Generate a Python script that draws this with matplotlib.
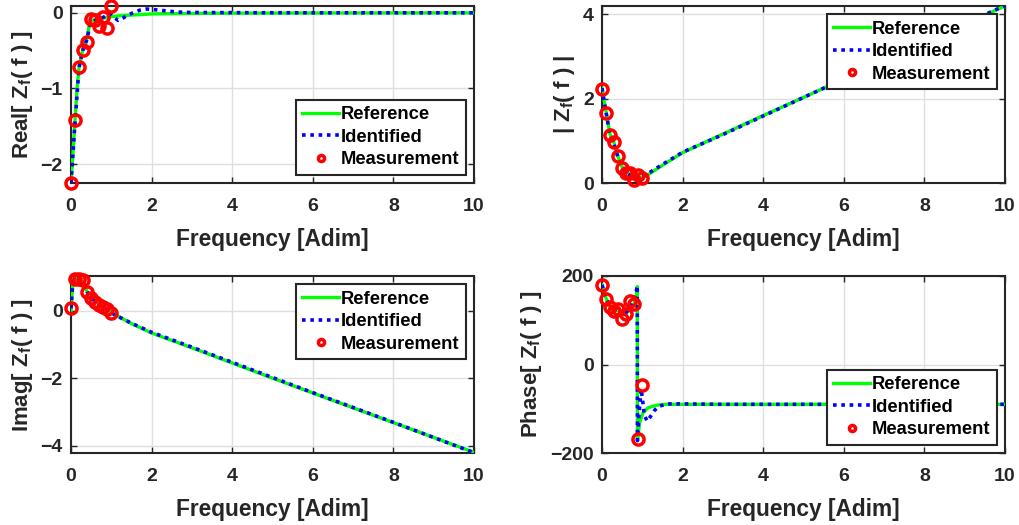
import matplotlib
matplotlib.use('Agg')
import matplotlib.pyplot as plt

plt.rcParams['font.family'] = ['Liberation Sans', 'DejaVu Sans']
plt.rcParams['font.weight'] = 'bold'
plt.rcParams['mathtext.fontset'] = 'custom'
plt.rcParams['mathtext.rm'] = 'Liberation Sans:bold'
plt.rcParams['mathtext.bf'] = 'Liberation Sans:bold'
plt.rcParams['mathtext.it'] = 'Liberation Sans:bold'

# Measurements (same frequencies for all panels)
f_meas = [0.0, 0.1, 0.2, 0.3, 0.4, 0.5, 0.6, 0.7, 0.8, 0.9, 1.0]
re_meas = [-2.25, -1.42, -0.71, -0.49, -0.38, -0.08, -0.10, -0.18, -0.05, -0.20, 0.09]
mag_meas = [2.23, 1.66, 1.13, 0.97, 0.64, 0.36, 0.23, 0.24, 0.07, 0.19, 0.12]
im_meas = [0.07, 0.93, 0.93, 0.90, 0.57, 0.39, 0.25, 0.18, 0.12, 0.04, -0.06]
ph_meas = [180, 149, 130, 121, 125, 102, 115, 143, 137, -168, -47]

# Real part
f_re_ref = [0, 0.05, 0.1, 0.15, 0.2, 0.3, 0.4, 0.45, 0.5, 0.6, 0.8, 1.0, 1.2, 1.5, 2, 3, 4, 6, 8, 10]
re_ref = [-2.25, -1.85, -1.42, -1.0, -0.72, -0.47, -0.33, -0.17, -0.11, -0.09, -0.07, -0.05,
          -0.04, -0.03, -0.015, -0.008, -0.005, -0.003, -0.002, -0.001]
f_re_id = [0, 0.1, 0.2, 0.3, 0.4, 0.45, 0.5, 0.6, 0.7, 0.8, 0.9, 0.97, 1.09, 1.17, 1.29, 1.41,
           1.54, 1.71, 1.88, 2.1, 2.37, 2.6, 2.85, 3.5, 4.5, 6, 8, 10]
re_id = [-2.25, -1.45, -0.72, -0.48, -0.35, -0.2, -0.12, -0.1, -0.08, -0.06, -0.03, -0.01,
         -0.07, -0.1, -0.07, -0.03, 0.0, 0.035, 0.05, 0.04, 0.025, 0.012, 0.006, 0.003,
         0.001, 0.0, 0.0, 0.0]

# Magnitude
f_mag_ref = [0, 0.1, 0.2, 0.3, 0.4, 0.5, 0.6, 0.7, 0.8, 0.9, 1.0, 1.1, 1.5, 2, 3, 4, 5, 6, 7, 8, 9, 10]
mag_ref = [2.25, 1.7, 1.15, 0.95, 0.62, 0.38, 0.27, 0.2, 0.15, 0.13, 0.14, 0.17, 0.42, 0.72,
           1.16, 1.6, 2.03, 2.47, 2.9, 3.33, 3.77, 4.2]
f_mag_id = [0, 0.1, 0.2, 0.3, 0.4, 0.5, 0.6, 0.7, 0.8, 0.9, 1.0, 1.1, 1.5, 2, 3, 4, 5, 6, 7, 8, 9, 10]
mag_id = [2.25, 1.68, 1.13, 0.9, 0.6, 0.37, 0.25, 0.17, 0.1, 0.09, 0.14, 0.2, 0.44, 0.73,
          1.15, 1.59, 2.03, 2.47, 2.91, 3.34, 3.78, 4.21]

# Imaginary part
f_im_ref = [0, 0.05, 0.1, 0.2, 0.3, 0.4, 0.5, 0.6, 0.7, 0.8, 0.9, 1.0, 1.1, 1.5, 2, 3, 4, 5, 6, 7, 8, 9, 10]
im_ref = [0.0, 0.93, 0.95, 0.92, 0.85, 0.57, 0.4, 0.28, 0.19, 0.11, 0.03, -0.05, -0.12, -0.38,
          -0.66, -1.1, -1.55, -2.0, -2.44, -2.88, -3.32, -3.76, -4.2]
f_im_id = [0, 0.05, 0.1, 0.2, 0.3, 0.4, 0.5, 0.6, 0.7, 0.8, 0.9, 1.0, 1.1, 1.5, 2, 3, 4, 5, 6, 7, 8, 9, 10]
im_id = [0.07, 0.92, 0.94, 0.92, 0.84, 0.56, 0.39, 0.27, 0.18, 0.1, 0.03, -0.06, -0.13, -0.37,
         -0.64, -1.08, -1.53, -1.98, -2.43, -2.87, -3.31, -3.76, -4.21]

# Phase (deg)
f_ph_ref = [0, 0.1, 0.2, 0.3, 0.4, 0.5, 0.6, 0.7, 0.8, 0.86, 0.875, 0.88, 0.9, 0.93, 1.02,
            1.14, 1.35, 1.6, 2, 4, 6, 8, 10]
ph_ref = [180, 150, 130, 122, 122, 112, 115, 125, 138, 160, 176, -170, -160, -132, -109,
          -98, -92, -90, -90, -90, -90, -90, -90]
f_ph_id = [0, 0.1, 0.2, 0.3, 0.4, 0.5, 0.6, 0.7, 0.8, 0.86, 0.875, 0.88, 0.92, 0.97, 1.0,
           1.05, 1.12, 1.2, 1.3, 1.4, 1.6, 2, 3, 6, 10]
ph_id = [180, 148, 132, 124, 120, 112, 118, 130, 150, 170, 178, -172, -110, -55, -75,
         -115, -128, -118, -104, -95, -89, -89, -90, -90, -90]

labels = ['Real[ Z$_{\\rm f}$( f ) ]', '| Z$_{\\rm f}$( f ) |',
          'Imag[ Z$_{\\rm f}$( f ) ]', 'Phase[ Z$_{\\rm f}$( f ) ]']

fig = plt.figure(figsize=(10.19, 5.25), dpi=100)
W, H = 1019.0, 525.0
boxes = [(71, 6, 474, 183), (602, 6, 1005, 183), (71, 276, 474, 453), (602, 276, 1005, 453)]
panels = [
    (f_re_ref, re_ref, f_re_id, re_id, re_meas, (-2.25, 0.09), [-2, -1, 0], 'lower right'),
    (f_mag_ref, mag_ref, f_mag_id, mag_id, mag_meas, (0, 4.2), [0, 2, 4], 'upper right'),
    (f_im_ref, im_ref, f_im_id, im_id, im_meas, (-4.22, 1.03), [-4, -2, 0], 'upper right'),
    (f_ph_ref, ph_ref, f_ph_id, ph_id, ph_meas, (-200, 200), [-200, 0, 200], 'lower right'),
]
dark = '#262626'

for (x0, y0, x1, y1), p, lab in zip(boxes, panels, labels):
    fr, yr, fi, yi, ym, ylim, yt, loc = p
    ax = fig.add_axes([x0 / W, 1 - y1 / H, (x1 - x0) / W, (y1 - y0) / H])
    ax.plot(fr, yr, color='#00ff00', lw=2.4, label='Reference', zorder=3)
    ax.plot(fi, yi, color='#0000ff', lw=2.6, linestyle=(0, (1, 1.3)), label='Identified', zorder=4)
    ax.plot(f_meas, ym, 'o', color='red', mfc='none', ms=8, mew=2.5,
            label='Measurement', zorder=5, clip_on=False)
    ax.set_xlim(0, 10)
    ax.set_ylim(*ylim)
    ax.set_xticks([0, 2, 4, 6, 8, 10])
    ax.set_yticks(yt)
    ax.grid(True, color='#dfdfdf', lw=1.0)
    ax.set_axisbelow(True)
    ax.tick_params(direction='in', top=True, right=True, length=4, width=1,
                   labelsize=14, colors=dark)
    ax.tick_params(axis='x', pad=11)
    ax.tick_params(axis='y', pad=6)
    for sp in ax.spines.values():
        sp.set_linewidth(1.5)
        sp.set_color(dark)
    ax.set_xlabel('Frequency [Adim]', fontsize=16.4, fontweight='bold', color=dark, labelpad=9)
    ax.set_ylabel(lab, fontsize=16, fontweight='bold', color=dark, labelpad=4)
    leg = ax.legend(loc=loc, fontsize=13.2, frameon=True, fancybox=False, framealpha=1,
                    edgecolor=dark, borderaxespad=0.45, labelspacing=0.3,
                    handlelength=2.0, handletextpad=0.1, borderpad=0.35, markerscale=0.55)
    leg.get_frame().set_linewidth(1.5)
    leg.set_zorder(10)

fig.savefig('out.png', dpi=100)
